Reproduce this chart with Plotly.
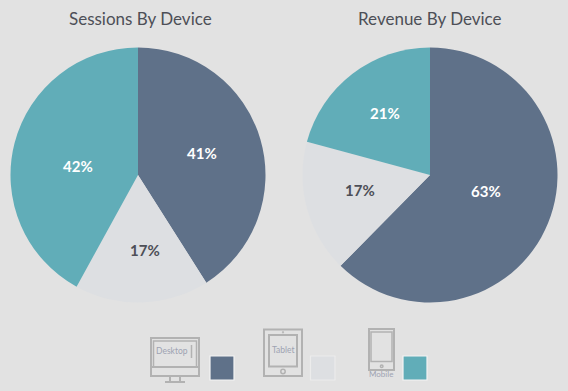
import plotly.graph_objects as go

W, H = 568, 391
devices = ["Desktop", "Tablet", "Mobile"]
sessions_values = [41, 17, 42]
revenue_values = [63, 17, 21]
colors = ["#5f7189", "#dddfe2", "#61adb8"]
label_colors = ["#ffffff", "#4d4f57", "#ffffff"]
titles = ["Sessions By Device", "Revenue By Device"]
FONT = "Lato, 'Open Sans', sans-serif"
ICON = "#b2b2b2"


def px(x):
    return x / W


def py(y):
    return 1 - y / H


def dom(x0, x1, y0, y1):
    return dict(x=[px(x0), px(x1)], y=[py(y1), py(y0)])


fig = go.Figure()
for vals, d in [
    (sessions_values, dom(10.5, 265.5, 47.5, 302.5)),
    (revenue_values, dom(302.5, 557.5, 47.5, 302.5)),
]:
    fig.add_trace(go.Pie(
        labels=devices, values=vals, sort=False, direction="clockwise", rotation=0,
        domain=d, textinfo="none",
        marker=dict(colors=colors, line=dict(width=0)), showlegend=False, hoverinfo="label+percent",
    ))

shapes = []


def rect(x0, y0, x1, y1, line=ICON, fill="rgba(0,0,0,0)", lw=2):
    shapes.append(dict(type="rect", xref="paper", yref="paper", x0=px(x0), x1=px(x1),
                       y0=py(y1), y1=py(y0), line=dict(color=line, width=lw), fillcolor=fill))


def seg(x0, y0, x1, y1, lw=2, line=ICON):
    shapes.append(dict(type="line", xref="paper", yref="paper", x0=px(x0), x1=px(x1),
                       y0=py(y0), y1=py(y1), line=dict(color=line, width=lw)))


def circ(cx, cy, r):
    shapes.append(dict(type="circle", xref="paper", yref="paper", x0=px(cx - r), x1=px(cx + r),
                       y0=py(cy + r), y1=py(cy - r), line=dict(color=ICON, width=1.5)))


# Desktop icon
rect(151, 338, 199, 376)
rect(153.5, 341, 196.5, 367, lw=1.5)
seg(151, 367, 199, 367)
seg(170, 376, 170, 382)
seg(180, 376, 180, 382)
seg(165, 382, 185, 382)
seg(191.5, 345, 191.5, 358, lw=1.5)
# Tablet icon
rect(264, 329.5, 302, 376)
rect(269, 335, 297, 366.5)
circ(283, 371.5, 2.2)
circ(283, 332.3, 0.4)
# Mobile icon
rect(369, 329, 394, 370)
rect(371, 332, 392, 361.5, lw=1.5)
circ(381.7, 366.2, 1.3)
# Swatches
swatch_borders = ["#f4f4f4", "#ececec", "#f4f4f4"]
for c, b, (x0, x1) in zip(colors, swatch_borders, [(210, 234), (310.5, 335), (403, 427)]):
    rect(x0, 356, x1, 380, line=b, fill=c, lw=1.2)

annotations = []
for t, cx in zip(titles, [140, 430]):
    annotations.append(dict(text=t, x=px(cx), y=py(19), xref="paper", yref="paper", showarrow=False,
                            xanchor="center", yanchor="middle",
                            font=dict(family=FONT, size=17, color="#4d4f57")))
for t, cx, cy, s in zip(devices, [172, 283.3, 381.3], [351, 350.3, 374.3], [8.5, 8.5, 8]):
    annotations.append(dict(text=t, x=px(cx), y=py(cy), xref="paper", yref="paper", showarrow=False,
                            xanchor="center", yanchor="middle",
                            font=dict(family=FONT, size=s, color="#9ea3b2")))

# Percent labels at the reference's hand-placed spots
label_spots = [
    (sessions_values, [(202, 153), (145, 250), (78, 166)]),
    (revenue_values, [(486, 191), (360, 190), (385, 113)]),
]
for vals, spots in label_spots:
    for v, (cx, cy), c in zip(vals, spots, label_colors):
        annotations.append(dict(text=f"<b>{v}%</b>", x=px(cx), y=py(cy), xref="paper", yref="paper",
                                showarrow=False, xanchor="center", yanchor="middle",
                                font=dict(family=FONT, size=15, color=c)))

fig.update_layout(width=W, height=H, margin=dict(l=0, r=0, t=0, b=0),
                  paper_bgcolor="#e2e2e2", plot_bgcolor="#e2e2e2",
                  shapes=shapes, annotations=annotations)
fig.write_html("out.html", config={"displayModeBar": False},
               post_script="document.body.style.margin='0';document.body.style.background='#e2e2e2';")
